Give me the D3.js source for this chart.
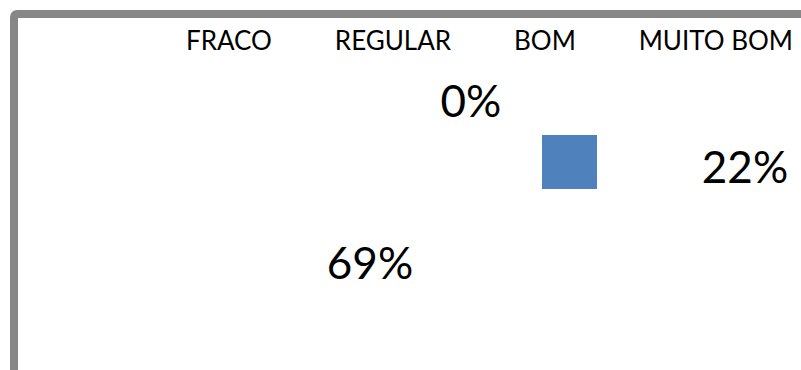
<!DOCTYPE html>
<html>
<head>
<meta charset="utf-8">
<script src="https://cdn.jsdelivr.net/npm/d3@7"></script>
<style>
  html, body { margin: 0; padding: 0; background: #fff; }
  svg { display: block; }
</style>
</head>
<body>
<svg id="chart" width="801" height="370"></svg>
<script>
// ---- data ----
const categories = ["FRACO", "REGULAR", "BOM", "MUITO BOM"];
const values = [null, 69, 0, 22];           // FRACO label not shown in the picture
const seriesColor = "#4F81BD";

// ---- layout ----
const W = 801, H = 370;
const svg = d3.select("#chart");
const font = "Lato, 'Open Sans', sans-serif";

// chart area frame (thick grey border, cut by the window on right/bottom)
svg.append("rect")
  .attr("x", 14).attr("y", 14)
  .attr("width", W + 40).attr("height", H + 40)
  .attr("rx", 3)
  .attr("fill", "none")
  .attr("stroke", "#878787")
  .attr("stroke-width", 8);

// legend headers across the top
const legendG = svg.append("g");
const legendTexts = legendG.selectAll("text")
  .data(categories)
  .join("text")
  .attr("font-family", font)
  .attr("font-size", 26)
  .attr("fill", "#000")
  .attr("y", 50)
  .text(d => d);

const widths = [];
legendTexts.each(function() { widths.push(this.getComputedTextLength()); });
const legStart = 186, legEnd = 793;
const gap = (legEnd - legStart - d3.sum(widths)) / (categories.length - 1);
let cx = legStart;
const legendX = widths.map(w => { const x = cx; cx += w + gap; return x; });
legendTexts.attr("x", (d, i) => legendX[i]);

// label anchor positions per category (ordinal scales)
const labelX = d3.scaleOrdinal().domain(categories).range([null, 370, 471, 745]);
const labelY = d3.scaleOrdinal().domain(categories).range([null, 279, 117, 183]);

const data = categories.map((c, i) => ({ cat: c, v: values[i] }))
  .filter(d => d.v !== null);

svg.append("g").selectAll("text")
  .data(data)
  .join("text")
  .attr("font-family", font)
  .attr("font-size", 44)
  .attr("fill", "#000")
  .attr("text-anchor", "middle")
  .attr("x", d => labelX(d.cat))
  .attr("y", d => labelY(d.cat))
  .text(d => d3.format(".0%")(d.v / 100));

// single blue series swatch
const swX = d3.scaleBand().domain(categories).range([186, 793]);
svg.append("rect")
  .attr("x", 542).attr("y", 135)
  .attr("width", 55).attr("height", 54)
  .attr("fill", seriesColor);
</script>
</body>
</html>
